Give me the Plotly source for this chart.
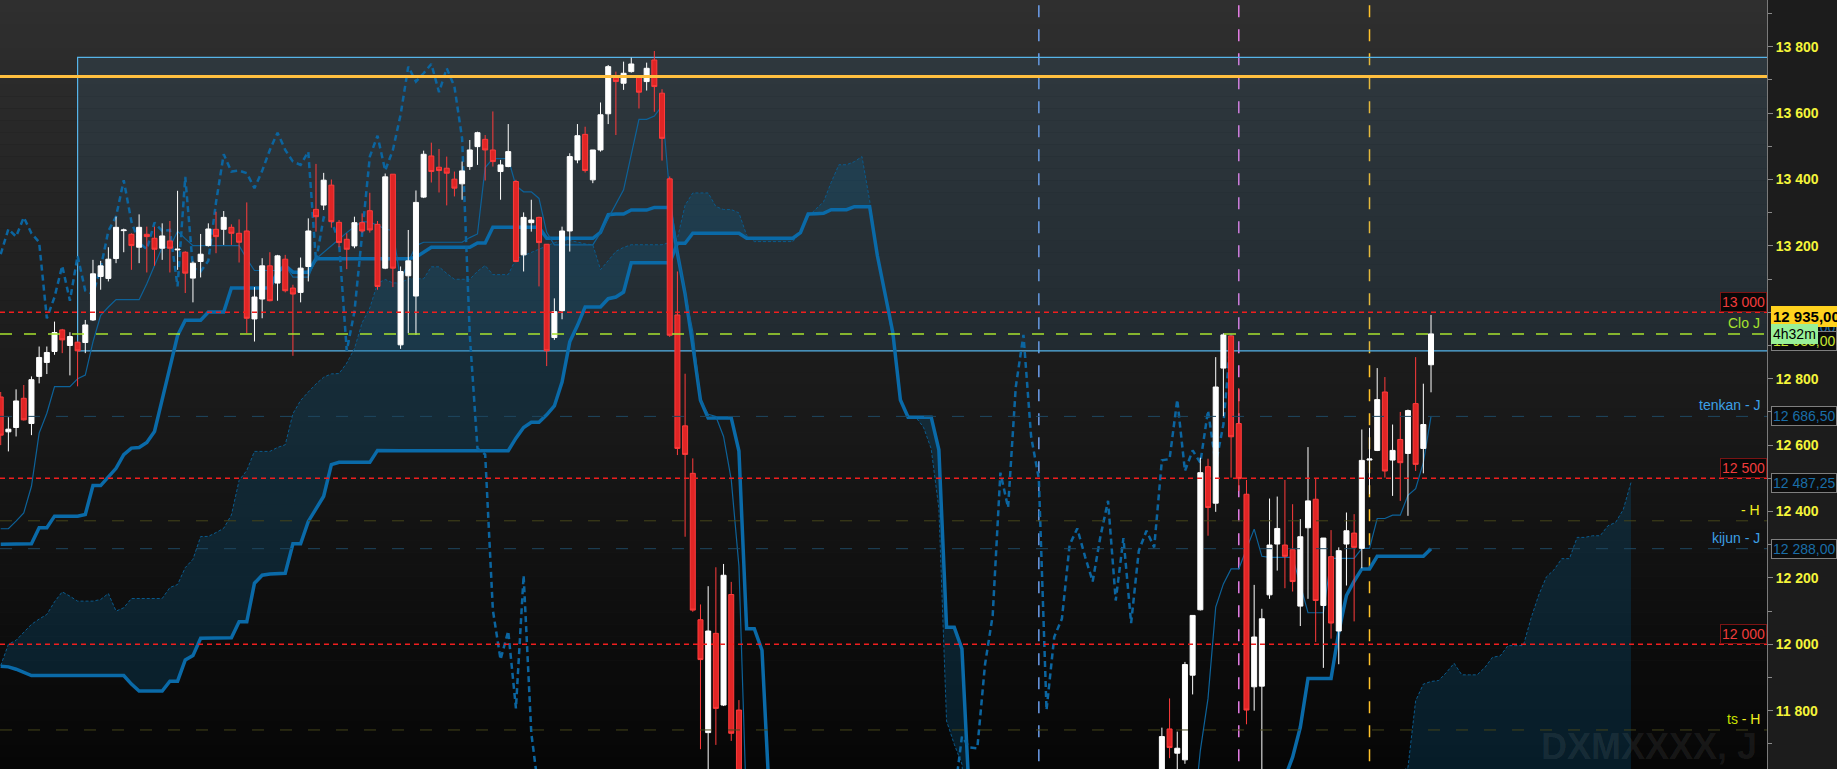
import plotly.graph_objects as go

# ---------------- data (bar index 0..186, daily candles) ----------------
open_ = [
    12745, 12640, 12653, 12741, 12665, 12807, 12849, 12882, 12947, 12900,
    12910, 12909, 12977, 13108, 13102, 13162, 13246, 13235, 13196, 13235,
    13223, 13193, 13215, 13188, 13181, 13103, 13153, 13201, 13250, 13250,
    13256, 13238, 13245, 12980, 13040, 13140, 13088, 13160, 13073, 13060,
    13138, 13310, 13323, 13383, 13271, 13220, 13200, 13270, 13306, 13265,
    13133, 13416, 12902, 13110, 13049, 13347, 13471, 13437, 13434, 13401,
    13387, 13439, 13499, 13521, 13489, 13424, 13439, 13394, 13173, 13270,
    13286, 13205, 12924, 13005, 13245, 13459, 13536, 13399, 13489, 13598,
    13708, 13690, 13725, 13707, 13695, 13760, 13660, 13402, 12992, 12658,
    12515, 12074, 11734, 12033, 11817, 12150, 11802, 11550, 11260, 11150,
    10980, 11200, 11050, 10820, 10900, 11100, 11020, 10850, 10700, 10780,
    10950, 11080, 11150, 10980, 10860, 10720, 10600, 10690, 10850, 10990,
    11120, 11060, 11200, 11310, 11250, 11380, 11420, 11300, 11150, 11020,
    10880, 10750, 10620, 10560, 10700, 10850, 10980, 11100, 11240, 11180,
    11320, 11400, 11350, 11480, 11420, 11300, 11380, 11450, 11520, 11400,
    11480, 11580, 11745, 11672, 11652, 11907, 12104, 12535, 12425, 12832,
    12929, 12665, 12452, 11872, 11874, 12149, 12302, 12299, 12285, 12115,
    12351, 12437, 12117, 12264, 12040, 12302, 12335, 12289, 12555, 12584,
    12760, 12555, 12617, 12575, 12725, 12590, 12842]
high = [
    12760, 12684, 12768, 12781, 12807, 12897, 12897, 12972, 12950, 12940,
    12912, 12977, 13158, 13155, 13196, 13288, 13252, 13238, 13295, 13258,
    13258, 13268, 13275, 13366, 13184, 13153, 13236, 13268, 13303, 13305,
    13265, 13280, 13331, 13076, 13163, 13181, 13173, 13173, 13083, 13165,
    13283, 13447, 13420, 13400, 13278, 13238, 13288, 13298, 13360, 13275,
    13418, 13416, 13138, 13248, 13367, 13487, 13511, 13492, 13469, 13424,
    13454, 13519, 13544, 13534, 13605, 13459, 13567, 13399, 13301, 13339,
    13288, 13205, 13042, 13258, 13479, 13567, 13559, 13489, 13632, 13745,
    13725, 13755, 13767, 13712, 13752, 13787, 13672, 13409, 13123, 12815,
    12560, 12120, 12175, 12232, 12242, 12188, 11832, 11590, 11320, 11190,
    11240, 11260, 11090, 10950, 11140, 11150, 11060, 10890, 10820, 10990,
    11120, 11190, 11180, 11010, 10900, 10760, 10730, 10890, 11030, 11160,
    11150, 11240, 11350, 11340, 11420, 11460, 11450, 11330, 11190, 11060,
    10910, 10790, 10650, 10740, 10890, 11020, 11140, 11280, 11270, 11360,
    11440, 11430, 11520, 11510, 11450, 11420, 11490, 11560, 11550, 11520,
    11580, 11749, 11837, 11737, 11947, 12087, 12562, 12559, 12865, 12937,
    12929, 12772, 12495, 12179, 12107, 12439, 12445, 12495, 12422, 12377,
    12594, 12500, 12320, 12344, 12292, 12397, 12392, 12647, 12652, 12832,
    12805, 12662, 12700, 12707, 12865, 12785, 12992]
low = [
    12600, 12581, 12626, 12674, 12630, 12786, 12814, 12872, 12877, 12810,
    12777, 12877, 12974, 13068, 13093, 13148, 13181, 13128, 13148, 13120,
    13140, 13158, 13120, 13128, 13058, 13030, 13105, 13198, 13178, 13203,
    13203, 13150, 12937, 12912, 12982, 13033, 13035, 13060, 12869, 13030,
    13093, 13243, 13308, 13255, 13196, 13130, 13193, 13240, 13240, 13068,
    13130, 13076, 12890, 12937, 12932, 13344, 13391, 13361, 13322, 13349,
    13339, 13429, 13444, 13397, 13439, 13339, 13437, 13151, 13123, 13243,
    13078, 12838, 12917, 12979, 13183, 13449, 13421, 13389, 13484, 13567,
    13534, 13670, 13722, 13614, 13668, 13604, 13457, 12926, 12570, 12324,
    12098, 11684, 11600, 11697, 11814, 11709, 11500, 11210, 11110, 10930,
    10940, 11010, 10780, 10790, 10860, 10980, 10810, 10660, 10670, 10740,
    10910, 11040, 10940, 10820, 10680, 10560, 10570, 10650, 10810, 10950,
    11020, 11030, 11160, 11210, 11220, 11340, 11260, 11110, 10980, 10840,
    10710, 10580, 10540, 10530, 10660, 10810, 10940, 11060, 11140, 11150,
    11280, 11310, 11320, 11390, 11260, 11270, 11340, 11410, 11360, 11370,
    11440, 11560, 11657, 11620, 11640, 11849, 12102, 12327, 12399, 12687,
    12502, 12462, 11759, 11800, 11600, 12137, 12222, 12169, 12159, 12055,
    12137, 12007, 11929, 12017, 11940, 12177, 12069, 12229, 12452, 12582,
    12502, 12447, 12432, 12387, 12522, 12515, 12759]
close = [
    12630, 12648, 12733, 12676, 12797, 12864, 12879, 12939, 12917, 12927,
    12884, 12962, 13116, 13140, 13160, 13256, 13248, 13201, 13256, 13228,
    13190, 13230, 13193, 13190, 13118, 13148, 13175, 13251, 13228, 13286,
    13238, 13211, 12982, 13046, 13140, 13035, 13170, 13065, 13055, 13133,
    13245, 13288, 13398, 13273, 13210, 13190, 13270, 13245, 13248, 13078,
    13408, 13133, 13123, 13155, 13331, 13476, 13424, 13427, 13419, 13374,
    13426, 13489, 13541, 13489, 13454, 13444, 13484, 13153, 13286, 13278,
    13210, 12884, 13002, 13245, 13469, 13532, 13427, 13489, 13595, 13740,
    13695, 13720, 13748, 13663, 13735, 13680, 13524, 12931, 12590, 12572,
    12103, 11954, 12040, 11807, 12208, 11732, 11550, 11260, 11150, 10980,
    11200, 11050, 10820, 10900, 11100, 11020, 10850, 10700, 10780, 10950,
    11080, 11150, 10980, 10860, 10720, 10600, 10690, 10850, 10990, 11120,
    11060, 11200, 11310, 11250, 11380, 11420, 11300, 11150, 11020, 10880,
    10750, 10620, 10560, 10700, 10850, 10980, 11100, 11240, 11180, 11320,
    11400, 11350, 11480, 11420, 11300, 11380, 11450, 11520, 11400, 11480,
    11540, 11722, 11689, 11687, 11939, 12087, 12517, 12412, 12775, 12932,
    12625, 12499, 11802, 12022, 12077, 12299, 12349, 12265, 12189, 12324,
    12432, 12132, 12320, 12064, 12282, 12342, 12292, 12554, 12558, 12737,
    12522, 12584, 12547, 12704, 12542, 12662, 12935]

tenkan = [
    12348, 12348, 12371, 12396, 12476, 12636, 12696, 12776, 12776, 12776,
    12800, 12811, 12911, 12991, 13016, 13038, 13038, 13038, 13038, 13086,
    13140, 13196, 13196, 13244, 13222, 13201, 13201, 13201, 13201, 13201,
    13201, 13201, 13161, 13126, 13126, 13126, 13126, 13141, 13106, 13106,
    13106, 13161, 13180, 13200, 13220, 13240, 13258, 13273, 13272, 13262,
    13251, 13246, 13096, 13150, 13201, 13211, 13211, 13211, 13211, 13211,
    13211, 13225, 13236, 13436, 13463, 13463, 13463, 13381, 13363, 13363,
    13343, 13241, 13203, 13203, 13203, 13203, 13203, 13203, 13240, 13283,
    13326, 13369, 13475, 13581, 13581, 13591, 13622, 13356, 13178, 13055,
    12942, 12735, 12693, 12686, 12626, 12496, 12236, 11491, 11351, 11296,
    11200, 11150, 11100, 11000, 10950, 10980, 10950, 10900, 10880, 10850,
    10900, 10950, 10980, 11000, 10950, 10900, 10850, 10800, 10780, 10760,
    10800, 10850, 10900, 10920, 10950, 10980, 11000, 11050, 11020, 10980,
    10950, 10900, 10850, 10800, 10760, 10720, 10700, 10720, 10760, 10800,
    10850, 10900, 10950, 11000, 11050, 11100, 11150, 11200, 11250, 11300,
    11320, 11340, 11360, 11380, 11400, 11450, 11680, 11837, 12112, 12182,
    12227, 12227, 12287, 12347, 12265, 12262, 12262, 12262, 12262, 12180,
    12095, 12095, 12095, 12259, 12259, 12259, 12259, 12289, 12289, 12379,
    12379, 12389, 12389, 12449, 12469, 12547, 12686.5]
kijun = [
    12301, 12302, 12302, 12303, 12303, 12351, 12351, 12386, 12386, 12386,
    12386, 12391, 12478, 12478, 12504, 12530, 12571, 12591, 12593, 12608,
    12641, 12741, 12830, 12930, 12976, 12976, 12976, 13001, 13001, 13001,
    13073, 13073, 13073, 13073, 13073, 13073, 13121, 13141, 13121, 13121,
    13121, 13161, 13161, 13161, 13161, 13161, 13161, 13161, 13161, 13161,
    13161, 13161, 13161, 13161, 13166, 13180, 13196, 13196, 13196, 13196,
    13196, 13196, 13209, 13209, 13256, 13256, 13256, 13256, 13256, 13256,
    13256, 13223, 13223, 13223, 13223, 13223, 13223, 13223, 13241, 13294,
    13296, 13296, 13308, 13308, 13308, 13316, 13316, 13316, 13178, 13055,
    12900, 12735, 12682, 12682, 12682, 12682, 12582, 12047, 12047, 11982,
    11520, 11480, 11450, 11400, 11400, 11380, 11350, 11350, 11330, 11330,
    11300, 11300, 11300, 11280, 11250, 11250, 11250, 11220, 11220, 11200,
    11200, 11200, 11180, 11180, 11180, 11200, 11220, 11250, 11250, 11250,
    11280, 11300, 11300, 11320, 11350, 11350, 11380, 11400, 11400, 11420,
    11450, 11450, 11480, 11500, 11500, 11520, 11530, 11540, 11540, 11550,
    11550, 11550, 11550, 11550, 11550, 11550, 11550, 11420, 11548, 11578,
    11549, 11555, 11543, 11539, 11551, 11554, 11554, 11598, 11660, 11750,
    11897, 11897, 11897, 11897, 12037, 12147, 12190, 12227, 12227, 12265,
    12265, 12265, 12265, 12265, 12265, 12265, 12288]
# leading span B, bars 0..212 (26 bars ahead of the last candle)
senkou_b = [
    11934, 11932, 11925, 11915, 11906, 11906, 11906, 11906, 11906, 11906,
    11906, 11906, 11906, 11906, 11906, 11906, 11906, 11880, 11859, 11859,
    11859, 11859, 11889, 11889, 11953, 11966, 12018, 12018, 12018, 12018,
    12020, 12068, 12068, 12184, 12208, 12212, 12212, 12214, 12303, 12303,
    12370, 12410, 12446, 12541, 12548, 12548, 12548, 12548, 12548, 12584,
    12583, 12583, 12583, 12583, 12583, 12583, 12583, 12583, 12583, 12583,
    12583, 12583, 12583, 12583, 12583, 12583, 12583, 12621, 12653, 12669,
    12669, 12691, 12718, 12790, 12911, 12960, 13016, 13016, 13016, 13041,
    13046, 13061, 13149, 13149, 13149, 13149, 13149, 13149, 13208, 13208,
    13238, 13238, 13238, 13238, 13238, 13238, 13238, 13223, 13223, 13223,
    13223, 13223, 13223, 13223, 13240, 13296, 13297, 13298, 13309, 13309,
    13309, 13318, 13318, 13318, 13171, 13050, 12941, 12736, 12684, 12684,
    12684, 12684, 12586, 12051, 12051, 11986, 11520, 11480, 11450, 11400,
    11400, 11380, 11350, 11350, 11330, 11330, 11300, 11300, 11300, 11280,
    11250, 11250, 11250, 11220, 11220, 11200, 11200, 11200, 11180, 11180,
    11180, 11180, 11180, 11180, 11180, 11180, 11180, 11180, 11180, 11180,
    11180, 11200, 11200, 11200, 11220, 11220, 11250, 11250, 11250, 11280,
    11300, 11300, 11320, 11350, 11350, 11380, 11400, 11400, 11420, 11450,
    11450, 11480, 11500, 11500, 11520, 11530, 11540, 11540, 11550, 11550,
    11550, 11550, 11550, 11550, 11550, 11550, 11550, 11550, 11550, 11550,
    11550, 11550, 11550, 11550, 11550, 11550, 11550, 11550, 11550, 11550,
    11550, 11550, 11550]
# leading span A for bars 0..25 (computed from bars before the visible window)
senkou_a_head = [
    11936, 12000, 12012, 12035, 12060, 12076, 12090, 12128, 12158, 12145,
    12130, 12130, 12130, 12135, 12153, 12100, 12110, 12138, 12138, 12138,
    12138, 12138, 12171, 12180, 12231, 12256]
SHIFT = 26

tick_values = [11800, 12000, 12200, 12400, 12600, 12800, 13000, 13200, 13400, 13600, 13800]
level_red = [13000, 12500, 12000]
level_orange = 13710
level_close = 12935
level_tenkan = 12686.5
level_kijun = 12288
level_ssa = 12487.25
level_h = 12372
level_ts = 11742
box_top, box_bottom, box_start = 13768, 12884, 10
vlines = [(135, "#6d9eeb"), (161, "#e67ee6"), (178, "#ffc22b")]

# ---------------- derived series ----------------
n = len(close)
bars = list(range(n))
senkou_a = senkou_a_head + [(tenkan[i] + kijun[i]) / 2 for i in range(n)]
cloud_x = list(range(len(senkou_a)))
chikou_x = [i - SHIFT for i in range(SHIFT, n)]
chikou_y = close[SHIFT:]

BLUE = "#0a6aa8"
FONT = "Liberation Sans"
X_RANGE = [-0.091, 229.69]
Y_RANGE = [11624.4, 13940.7]

fig = go.Figure()
fig.add_trace(go.Scatter(x=cloud_x, y=senkou_b[:len(cloud_x)], mode="lines",
                         line=dict(width=0, color="rgba(0,0,0,0)"), hoverinfo="skip"))
fig.add_trace(go.Scatter(x=cloud_x, y=senkou_a, mode="lines", fill="tonexty",
                         fillcolor="rgba(10,100,150,0.24)",
                         line=dict(width=1, color="#0a5a8c", dash="3px,2px"), hoverinfo="skip"))
fig.add_trace(go.Scatter(x=cloud_x, y=senkou_b[:len(cloud_x)], mode="lines",
                         line=dict(width=3.5, color=BLUE), hoverinfo="skip"))
fig.add_trace(go.Scatter(x=bars, y=kijun, mode="lines",
                         line=dict(width=3.5, color=BLUE), hoverinfo="skip"))
fig.add_trace(go.Scatter(x=bars, y=tenkan, mode="lines",
                         line=dict(width=1.2, color="#0d6299"), hoverinfo="skip"))
fig.add_trace(go.Scatter(x=chikou_x, y=chikou_y, mode="lines",
                         line=dict(width=2.5, color="#0b65a0", dash="6px,4px"), hoverinfo="skip"))
# candles on an overlaid (identical) axis pair so they sit above the lines
fig.add_trace(go.Candlestick(
    x=bars, open=open_, high=high, low=low, close=close, xaxis="x2", yaxis="y2",
    increasing=dict(line=dict(color="#ffffff", width=1), fillcolor="#ffffff"),
    decreasing=dict(line=dict(color="#ff3c3c", width=1), fillcolor="#e02525"),
    whiskerwidth=0, hoverinfo="skip"))

shapes = []
# background gradient (styling)
NB = 64
for k in range(NB):
    t = (k + 0.5) / NB  # 0 top -> 1 bottom
    c = int(round(47 - 41 * t))
    shapes.append(dict(type="rect", xref="paper", yref="paper", x0=0, x1=1,
                       y0=1 - (k + 1) / NB, y1=1 - k / NB, layer="below",
                       fillcolor=f"rgb({c},{c},{c})", line=dict(width=0)))
# highlighted box
shapes.append(dict(type="rect", xref="x", yref="y", x0=box_start, x1=260,
                   y0=box_bottom, y1=box_top, layer="below",
                   fillcolor="rgba(70,130,170,0.15)", line=dict(color="#56b4e9", width=1.2)))
for xv, col in vlines:
    shapes.append(dict(type="line", xref="x", yref="paper", x0=xv, x1=xv, y0=0.01, y1=0.995,
                       layer="below", line=dict(color=col, width=1.5, dash="12px,12px")))


def hline(y, color, width, dash):
    shapes.append(dict(type="line", xref="paper", yref="y", x0=0, x1=1, y0=y, y1=y,
                       layer="above", line=dict(color=color, width=width, dash=dash)))


hline(level_tenkan, "#1e4760", 1, "12px,16px")
hline(level_kijun, "#1e4760", 1, "12px,16px")
hline(level_h, "#45451a", 1, "12px,16px")
hline(level_ts, "#45451a", 1, "12px,16px")
for lv in level_red:
    hline(lv, "#f01e1e", 1.5, "5px,4px")
hline(level_close, "#a6e22e", 1.5, "12px,12px")
hline(level_orange, "#ffbf3f", 3, "solid")

ann = []
for lv in level_red:
    ann.append(dict(xref="paper", yref="y", x=1, y=lv, xanchor="right", yanchor="bottom",
                    text=f"{lv // 1000} {lv % 1000:03d}", showarrow=False,
                    font=dict(family=FONT, size=14, color="#f03c3c"),
                    bgcolor="#080808", bordercolor="#7a1414", borderwidth=1, borderpad=1))


def side_text(y, text, color):
    ann.append(dict(xref="paper", yref="y", x=1, y=y, xanchor="right", yanchor="bottom",
                    xshift=-5, yshift=1, text=text, showarrow=False,
                    font=dict(family=FONT, size=14, color=color)))


side_text(level_close, "Clo J", "#a6e22e")
side_text(level_tenkan, "tenkan - J", "#3ca0e6")
side_text(level_h, "- H", "#f0f020")
side_text(level_kijun, "kijun - J", "#3ca0e6")
side_text(level_ts, "<span style='color:#c8e000'>ts</span> - H", "#f0f020")


def axis_box(y, text, fg, bg, border, size=14, bold=False, shift=4):
    ann.append(dict(xref="paper", yref="y", x=1, y=y, xanchor="left", yanchor="middle",
                    xshift=shift, text=text, showarrow=False,
                    font=dict(family=FONT, size=size, color=fg, weight="bold" if bold else "normal"),
                    bgcolor=bg, bordercolor=border, borderwidth=1, borderpad=1))


axis_box(level_tenkan, "12 686,50", "#1a6ea8", "#0c0c0c", "#7f7f7f")
axis_box(level_ssa, "12 487,25", "#1a6ea8", "#0c0c0c", "#7f7f7f")
axis_box(level_kijun, "12 288,00", "#1a6ea8", "#0c0c0c", "#7f7f7f")
axis_box(12956, "12 940,00", "#1a6ea8", "#0c0c0c", "#7f7f7f")
axis_box(12913, "12 935,00", "#c8e632", "#0c0c0c", "#7f7f7f")
axis_box(12986, "12 935,00", "#000000", "#ffd21e", "#ffd21e", size=15, bold=True)
axis_box(level_close, "4h32m", "#000000", "#98f098", "#98f098", size=14, shift=4)
ann.append(dict(xref="paper", yref="paper", x=1, y=0, xanchor="right", yanchor="bottom",
                xshift=-8, yshift=0, text="DXMXXXX, J", showarrow=False,
                font=dict(family=FONT, size=36, color="rgba(255,255,255,0.08)", weight="bold")))

fig.update_layout(
    width=1837, height=769,
    margin=dict(l=0, r=70, t=0, b=0),
    paper_bgcolor="#1c1c1c", plot_bgcolor="rgba(0,0,0,0)",
    showlegend=False, separators=", ",
    boxgap=0.35, boxgroupgap=0,
    shapes=shapes, annotations=ann,
    xaxis=dict(range=X_RANGE, visible=False, showgrid=False,
               rangeslider=dict(visible=False), fixedrange=True),
    xaxis2=dict(range=X_RANGE, visible=False, showgrid=False, overlaying="x",
                rangeslider=dict(visible=False), fixedrange=True),
    yaxis=dict(side="right", range=Y_RANGE, tickvals=tick_values,
               tickformat=",d", ticks="outside", ticklen=5, tickcolor="#8a8a8a",
               tickfont=dict(family=FONT, size=14, color="#f4f43a", weight="bold"),
               showgrid=False, zeroline=False, showline=True, linecolor="#7a7a7a",
               linewidth=1, fixedrange=True,
               minor=dict(dtick=100, tick0=11700, ticklen=4, tickcolor="#8a8a8a", ticks="outside")),
    yaxis2=dict(range=Y_RANGE, visible=False, showgrid=False, zeroline=False,
                overlaying="y", side="right", fixedrange=True),
)
fig.write_html("out.html", config={"displayModeBar": False},
               post_script="document.body.style.margin='0px';document.body.style.overflow='hidden';")
